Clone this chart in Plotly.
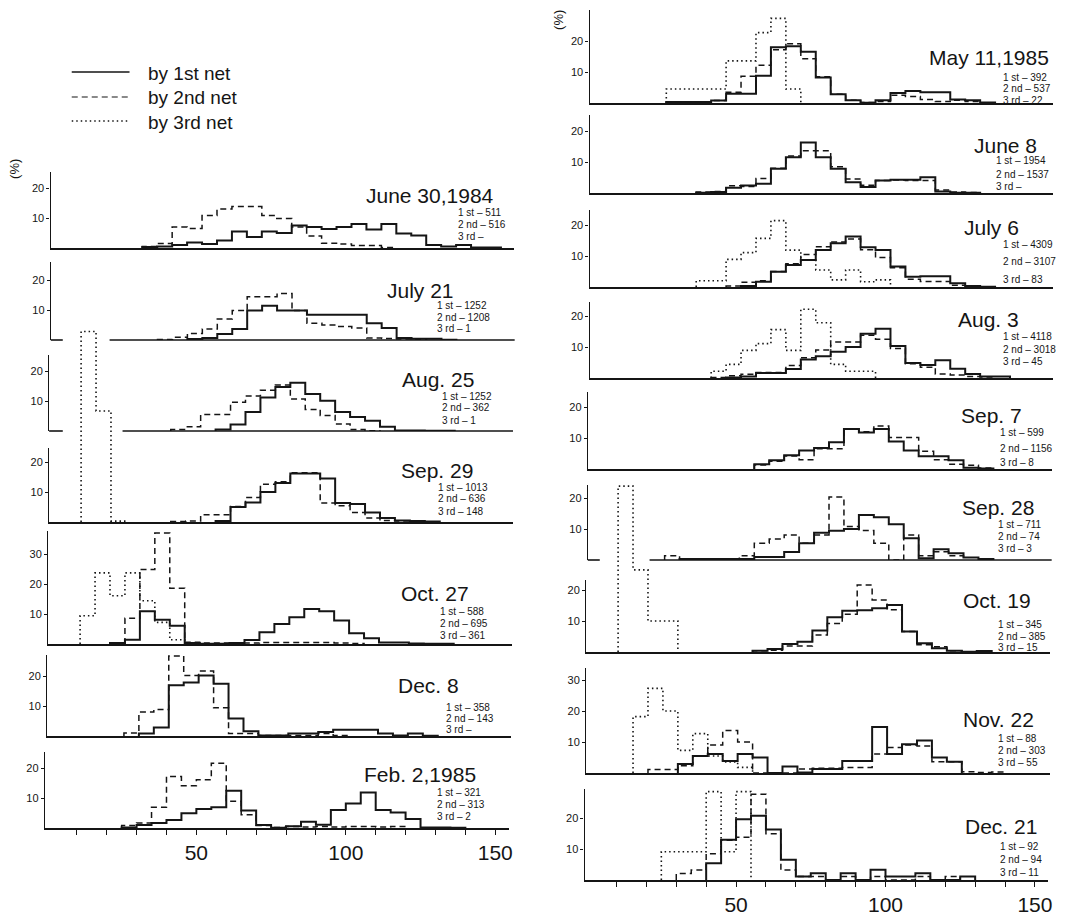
import plotly.graph_objects as go

# ------------------------------------------------------------------
# data : percentage frequency per 5-unit length class
# (each series: first class start + list of percentages)
# ------------------------------------------------------------------
BIN_WIDTH = 5
X_TICKS = list(range(10, 151, 10))
X_TICK_LABELS = ["50" if v == 50 else "100" if v == 100 else "150" if v == 150 else "" for v in X_TICKS]
Y_TICKS_STD = [10, 20]
Y_TICKS_TALL = [10, 20, 30]
LEGEND_LABELS = ["by 1st net", "by 2nd net", "by 3rd net"]

# ---- left column ----
jun30_84_n1_start = 30
jun30_84_n1 = [0.3, 0.5, 1.0, 1.8, 1.3, 2.5, 5.5, 3.7, 5.5, 5.0, 7.5, 7.0, 6.3, 7.0, 8.0, 6.2, 8.0, 4.8, 4.2, 1.0, 0.5, 1.0, 0.2, 0.2]
jun30_84_n2_start = 30
jun30_84_n2 = [0.5, 1.5, 7.0, 6.5, 10.8, 13.0, 13.8, 13.8, 10.8, 9.8, 7.0, 4.0, 1.6, 1.3, 0.8, 0.8, 0.2]

jul21_84_n1_start = 45
jul21_84_n1 = [0.3, 0.7, 2.0, 3.7, 9.8, 11.4, 9.8, 9.8, 8.4, 8.4, 8.4, 8.4, 5.6, 4.0, 0.7, 0.4, 0.4, 0.1]
jul21_84_n2_start = 35
jul21_84_n2 = [0.2, 0.9, 2.2, 3.7, 7.0, 9.8, 14.4, 14.4, 15.5, 9.8, 5.6, 5.0, 4.5, 4.0, 0.7, 0.5, 0.3, 0.2]

aug25_84_n1_start = 55
aug25_84_n1 = [0.5, 2.2, 6.3, 11.2, 14.7, 16.1, 12.3, 10.1, 6.3, 4.7, 3.4, 1.4, 0.2, 0.2, 0.1, 0.1]
aug25_84_n2_start = 40
aug25_84_n2 = [0.5, 1.4, 5.5, 5.5, 9.6, 11.7, 13.6, 15.3, 10.7, 7.2, 5.2, 2.3, 0.5, 0.1]

sep29_84_n1_start = 55
sep29_84_n1 = [0.3, 5.0, 6.5, 10.0, 13.0, 16.2, 16.2, 14.5, 6.3, 6.0, 3.2, 1.3, 0.5, 0.3, 0.2]
sep29_84_n2_start = 40
sep29_84_n2 = [0.2, 0.3, 2.4, 2.4, 5.2, 8.2, 12.6, 13.4, 16.4, 16.4, 6.3, 5.4, 3.2, 1.3, 0.5, 0.3]
sep29_84_n3_start = 10
sep29_84_n3 = [63.5, 37.0, 0.3]

oct27_84_n1_start = 20
oct27_84_n1 = [0.3, 1.4, 10.9, 8.1, 6.1, 0.3, 0.1, 0.1, 0.3, 1.3, 3.9, 6.7, 8.9, 11.7, 10.9, 7.8, 3.6, 1.9, 0.5, 0.5, 0.2, 0.1, 0.1]
oct27_84_n2_start = 25
oct27_84_n2 = [8.6, 24.8, 37.0, 18.6, 0.6, 0.3, 0.3, 0.3, 0.3, 0.5, 0.5, 0.5, 0.5, 0.5, 0.3, 0.2]
oct27_84_n3_start = 10
oct27_84_n3 = [9.4, 23.7, 16.1, 23.7, 14.4, 7.2, 1.4, 0.3]

dec8_84_n1_start = 30
dec8_84_n1 = [0.8, 2.8, 16.9, 17.8, 20.2, 17.4, 5.8, 1.6, 0.2, 0.2, 0.8, 0.8, 1.3, 2.1, 2.1, 2.1, 0.8, 0.2, 0.8, 0.1]
dec8_84_n2_start = 25
dec8_84_n2 = [1.0, 8.0, 8.8, 26.7, 20.2, 21.7, 9.4, 0.8, 0.8, 0.2, 0.2, 0.2, 0.2, 0.8, 0.2]

feb2_85_n1_start = 25
feb2_85_n1 = [0.2, 1.0, 1.7, 2.7, 4.9, 6.3, 6.9, 12.4, 5.8, 1.0, 0.1, 0.6, 2.1, 1.1, 6.0, 8.2, 11.8, 6.0, 5.2, 3.0, 0.2, 0.2, 0.1]
feb2_85_n2_start = 25
feb2_85_n2 = [0.8, 1.7, 6.9, 17.2, 14.1, 16.1, 21.6, 8.9, 4.4, 0.8, 0.2, 0.5, 0.3, 0.5, 0.3, 0.5, 0.5, 0.3, 0.5]

# ---- right column ----
may11_85_n1_start = 25
may11_85_n1 = [0.3, 0.3, 0.3, 0.8, 3.0, 3.0, 8.8, 18.0, 18.3, 16.5, 8.2, 2.8, 0.9, 0.1, 0.9, 3.2, 3.9, 3.5, 3.5, 1.1, 0.9, 0.2]
may11_85_n2_start = 25
may11_85_n2 = [0.3, 0.3, 0.3, 0.8, 3.5, 8.6, 12.2, 17.2, 19.1, 14.3, 8.5, 2.8, 0.9, 0.2, 0.5, 2.5, 2.1, 1.1, 0.5, 0.9, 0.5]
may11_85_n3_start = 25
may11_85_n3 = [4.5, 4.5, 4.5, 4.5, 13.6, 13.6, 22.7, 27.3, 4.5]

jun8_85_n1_start = 35
jun8_85_n1 = [0.1, 0.3, 1.7, 2.4, 3.0, 7.8, 11.5, 16.3, 11.5, 7.8, 3.5, 1.9, 4.0, 4.3, 4.3, 5.1, 0.5, 0.1, 0.1]
jun8_85_n2_start = 35
jun8_85_n2 = [0.3, 0.5, 2.3, 2.1, 4.7, 8.0, 11.9, 13.6, 13.6, 8.5, 4.5, 2.5, 4.0, 4.2, 4.0, 4.0, 1.0, 0.3, 0.2]

jul6_85_n1_start = 50
jul6_85_n1 = [0.3, 1.7, 4.9, 7.1, 8.7, 11.9, 14.1, 16.3, 12.8, 11.9, 6.6, 3.3, 3.5, 3.5, 1.2, 0.3, 0.1]
jul6_85_n2_start = 45
jul6_85_n2 = [0.3, 1.5, 2.0, 5.0, 7.5, 10.5, 13.0, 14.5, 15.5, 12.0, 9.5, 6.2, 2.5, 1.8, 1.8, 0.6, 0.4]
jul6_85_n3_start = 35
jul6_85_n3 = [2.0, 2.0, 8.9, 11.1, 15.7, 21.4, 11.9, 8.7, 5.5, 2.3, 5.5, 1.7, 2.3]

aug3_85_n1_start = 45
aug3_85_n1 = [0.2, 0.5, 1.6, 1.6, 2.9, 6.0, 7.0, 8.5, 10.0, 14.3, 15.9, 10.3, 4.8, 4.2, 5.7, 3.0, 1.3, 0.5, 0.5]
aug3_85_n2_start = 40
aug3_85_n2 = [0.2, 0.7, 1.2, 1.8, 1.8, 4.0, 6.5, 9.0, 11.6, 11.6, 13.8, 12.5, 9.5, 4.6, 3.5, 1.3, 1.0, 0.5, 0.3]
aug3_85_n3_start = 40
aug3_85_n3 = [2.2, 4.4, 8.9, 11.1, 15.6, 8.9, 22.2, 17.8, 4.4, 2.2, 2.2]

sep7_85_n1_start = 55
sep7_85_n1 = [1.5, 2.8, 4.4, 6.0, 6.8, 8.6, 12.9, 11.8, 12.9, 8.9, 6.0, 4.1, 4.1, 2.8, 0.4, 0.2]
sep7_85_n2_start = 55
sep7_85_n2 = [1.3, 2.5, 4.2, 3.0, 6.5, 6.5, 13.0, 12.0, 13.9, 10.2, 10.2, 5.7, 3.0, 1.5, 1.2, 0.3]

sep28_85_n1_start = 30
sep28_85_n1 = [0.3, 0.3, 0.3, 0.3, 0.3, 1.0, 1.0, 2.6, 5.4, 8.8, 9.4, 10.0, 14.5, 13.8, 11.5, 7.0, 0.6, 3.5, 2.2, 0.8, 0.3]
sep28_85_n2_start = 25
sep28_85_n2 = [1.4, 0.0, 0.0, 0.0, 0.0, 1.4, 5.4, 6.8, 8.1, 5.4, 8.1, 20.3, 10.8, 9.5, 5.4, 0.0, 8.1, 1.4, 2.7, 1.4]

oct19_85_n1_start = 55
oct19_85_n1 = [0.4, 1.0, 2.6, 3.3, 6.9, 11.2, 13.3, 13.5, 14.1, 15.2, 6.6, 2.8, 1.2, 0.4, 0.1, 0.3]
oct19_85_n2_start = 55
oct19_85_n2 = [0.4, 0.6, 1.9, 1.9, 5.5, 9.2, 12.2, 21.6, 16.8, 13.6, 6.6, 2.3, 1.7, 0.4, 0.1]
oct19_85_n3_start = 10
oct19_85_n3 = [53.5, 26.5, 10.0, 10.0]

nov22_85_n1_start = 30
nov22_85_n1 = [2.9, 5.5, 6.1, 3.9, 6.1, 5.0, 0.0, 2.1, 0.2, 1.3, 1.3, 3.9, 3.9, 14.8, 6.1, 9.3, 10.5, 5.0, 3.6]
nov22_85_n2_start = 20
nov22_85_n2 = [1.1, 1.1, 2.3, 5.5, 9.0, 13.7, 10.0, 0.0, 0.0, 0.0, 1.3, 1.5, 1.5, 1.8, 1.8, 6.1, 8.2, 9.0, 8.7, 3.6, 3.6, 0.4, 0.2, 0.3]
nov22_85_n3_start = 15
nov22_85_n3 = [18.2, 27.3, 20.0, 7.3, 12.7, 5.5, 3.6, 1.8]

dec21_85_n1_start = 40
dec21_85_n1 = [5.4, 13.0, 19.6, 20.7, 16.3, 6.5, 1.1, 2.2, 0.0, 2.2, 0.0, 3.3, 1.1, 1.1, 2.2, 0.0, 0.0, 1.1]
dec21_85_n2_start = 30
dec21_85_n2 = [2.1, 3.2, 8.5, 12.8, 13.8, 27.7, 14.9, 3.2, 1.1, 1.1, 0.0, 1.1, 0.0, 1.1, 0.0, 0.0, 1.1, 0.0, 1.1]
dec21_85_n3_start = 25
dec21_85_n3 = [9.1, 9.1, 9.1, 28.5, 9.1, 28.5]

# ------------------------------------------------------------------
# page geometry (pixels of the 1076 x 916 page)
# ------------------------------------------------------------------
W, H = 1076, 916
XRANGE = [-0.7, 154.5]
PX_PER_UNIT = 3.0
XSPAN = (XRANGE[1] - XRANGE[0]) * PX_PER_UNIT
INK = "#151515"
FONT = "Liberation Sans, Arial, Helvetica, sans-serif"

STYLE = {
    "n1": dict(color=INK, width=2.0, dash="solid"),
    "n2": dict(color=INK, width=1.5, dash="6px,4px"),
    "n3": dict(color=INK, width=1.6, dash="1.5px,3px"),
}

PANELS = [
    # left column
    dict(title="June 30,1984", counts=["1 st – 511", "2 nd – 516", "3 rd –"], scale=3.0,
         axis=50.7, base=248, top=172, yt=Y_TICKS_STD, tpos=(498, 196), cpos=(458, [212, 224, 236]),
         series=[("n1", jun30_84_n1_start, jun30_84_n1), ("n2", jun30_84_n2_start, jun30_84_n2)]),
    dict(title="July 21", counts=["1 st – 1252", "2 nd – 1208", "3 rd – 1"], scale=3.0,
         axis=51.0, base=340, top=262, yt=Y_TICKS_STD, tpos=(458, 290), cpos=(437, [305, 317, 329]),
         gap=(63, 110),
         series=[("n1", jul21_84_n1_start, jul21_84_n1), ("n2", jul21_84_n2_start, jul21_84_n2)]),
    dict(title="Aug. 25", counts=["1 st – 1252", "2 nd – 362", "3 rd – 1"], scale=3.0,
         axis=49.3, base=431, top=355, yt=Y_TICKS_STD, tpos=(478, 379), cpos=(442, [396, 408, 420]),
         gap=(63, 123),
         series=[("n1", aug25_84_n1_start, aug25_84_n1), ("n2", aug25_84_n2_start, aug25_84_n2)]),
    dict(title="Sep. 29", counts=["1 st – 1013", "2 nd – 636", "3 rd – 148"], scale=3.0,
         axis=49.3, base=522, top=448, yt=Y_TICKS_STD, tpos=(477, 470), cpos=(438, [487, 499, 511]),
         series=[("n1", sep29_84_n1_start, sep29_84_n1), ("n2", sep29_84_n2_start, sep29_84_n2),
                 ("n3", sep29_84_n3_start, sep29_84_n3)]),
    dict(title="Oct. 27", counts=["1 st – 588", "2 nd – 695", "3 rd – 361"], scale=3.0,
         axis=48.3, base=644, top=531, yt=Y_TICKS_TALL, tpos=(473, 593), cpos=(440, [611, 623, 635]),
         series=[("n1", oct27_84_n1_start, oct27_84_n1), ("n2", oct27_84_n2_start, oct27_84_n2),
                 ("n3", oct27_84_n3_start, oct27_84_n3)]),
    dict(title="Dec. 8", counts=["1 st – 358", "2 nd – 143", "3 rd –"], scale=3.0,
         axis=47.3, base=736, top=655, yt=Y_TICKS_STD, tpos=(463, 685), cpos=(446, [707, 718, 729]),
         series=[("n1", dec8_84_n1_start, dec8_84_n1), ("n2", dec8_84_n2_start, dec8_84_n2)]),
    dict(title="Feb. 2,1985", counts=["1 st – 321", "2 nd – 313", "3 rd – 2"], scale=3.0,
         axis=45.0, base=828, top=752, yt=Y_TICKS_STD, tpos=(480, 774), cpos=(437, [792, 804, 816]),
         bottom=True,
         series=[("n1", feb2_85_n1_start, feb2_85_n1), ("n2", feb2_85_n2_start, feb2_85_n2)]),
    # right column
    dict(title="May 11,1985", counts=["1 st – 392", "2 nd – 537", "3 rd – 22"], scale=3.1,
         axis=591.7, base=103, top=10, yt=Y_TICKS_STD, tpos=(1055, 58), cpos=(1005, [77, 89, 100]),
         series=[("n1", may11_85_n1_start, may11_85_n1), ("n2", may11_85_n2_start, may11_85_n2),
                 ("n3", may11_85_n3_start, may11_85_n3)]),
    dict(title="June 8", counts=["1 st – 1954", "2 nd – 1537", "3 rd –"], scale=3.1,
         axis=591.7, base=193, top=115, yt=Y_TICKS_STD, tpos=(1043, 145), cpos=(998, [161, 174, 187]),
         series=[("n1", jun8_85_n1_start, jun8_85_n1), ("n2", jun8_85_n2_start, jun8_85_n2)]),
    dict(title="July 6", counts=["1 st – 4309", "2 nd – 3107", "3 rd – 83"], scale=3.1,
         axis=591.7, base=287, top=210, yt=Y_TICKS_STD, tpos=(1025, 227), cpos=(1005, [244, 261, 279]),
         series=[("n1", jul6_85_n1_start, jul6_85_n1), ("n2", jul6_85_n2_start, jul6_85_n2),
                 ("n3", jul6_85_n3_start, jul6_85_n3)]),
    dict(title="Aug. 3", counts=["1 st – 4118", "2 nd – 3018", "3 rd – 45"], scale=3.1,
         axis=591.7, base=378, top=302, yt=Y_TICKS_STD, tpos=(1025, 320), cpos=(1005, [337, 349, 361]),
         series=[("n1", aug3_85_n1_start, aug3_85_n1), ("n2", aug3_85_n2_start, aug3_85_n2),
                 ("n3", aug3_85_n3_start, aug3_85_n3)]),
    dict(title="Sep. 7", counts=["1 st – 599", "2 nd – 1156", "3 rd – 8"], scale=3.1,
         axis=590.0, base=469, top=392, yt=Y_TICKS_STD, tpos=(1028, 415), cpos=(1002, [433, 448, 462]),
         series=[("n1", sep7_85_n1_start, sep7_85_n1), ("n2", sep7_85_n2_start, sep7_85_n2)]),
    dict(title="Sep. 28", counts=["1 st – 711", "2 nd – 74", "3 rd – 3"], scale=3.1,
         axis=590.0, base=560, top=485, yt=Y_TICKS_STD, tpos=(1040, 507), cpos=(1000, [524, 536, 548]),
         gap=(602, 652),
         series=[("n1", sep28_85_n1_start, sep28_85_n1), ("n2", sep28_85_n2_start, sep28_85_n2)]),
    dict(title="Oct. 19", counts=["1 st – 345", "2 nd – 385", "3 rd – 15"], scale=3.1,
         axis=588.3, base=652, top=580, yt=Y_TICKS_STD, tpos=(1037, 600), cpos=(1000, [624, 636, 647]),
         series=[("n1", oct19_85_n1_start, oct19_85_n1), ("n2", oct19_85_n2_start, oct19_85_n2),
                 ("n3", oct19_85_n3_start, oct19_85_n3)]),
    dict(title="Nov. 22", counts=["1 st – 88", "2 nd – 303", "3 rd – 55"], scale=3.1,
         axis=588.3, base=773, top=668, yt=Y_TICKS_TALL, tpos=(1040, 719), cpos=(1000, [738, 750, 762]),
         series=[("n1", nov22_85_n1_start, nov22_85_n1), ("n2", nov22_85_n2_start, nov22_85_n2),
                 ("n3", nov22_85_n3_start, nov22_85_n3)]),
    dict(title="Dec. 21", counts=["1 st – 92", "2 nd – 94", "3 rd – 11"], scale=3.1,
         axis=586.7, base=880, top=789, yt=Y_TICKS_STD, tpos=(1043, 826), cpos=(1002, [846, 859, 872]),
         bottom=True,
         series=[("n1", dec21_85_n1_start, dec21_85_n1), ("n2", dec21_85_n2_start, dec21_85_n2),
                 ("n3", dec21_85_n3_start, dec21_85_n3)]),
]


def px_x(px):
    return px / W


def px_y(py):
    return 1 - py / H


def step_xy(start, vals):
    xs = [start] + [start + BIN_WIDTH * i for i in range(len(vals))] + [start + BIN_WIDTH * len(vals)]
    ys = [0] + list(vals) + [0]
    return xs, ys


fig = go.Figure()
layout_axes = {}
annotations = []
shapes = []
n_ax = 0


def new_axes(axis_px, base, top, yrange, visible, yt=None, bottom=False, xline=True):
    global n_ax
    n_ax += 1
    s = "" if n_ax == 1 else str(n_ax)
    xa = dict(domain=[px_x(axis_px), px_x(axis_px + XSPAN)], range=XRANGE, anchor="y" + s,
              showgrid=False, zeroline=False, fixedrange=True, visible=visible)
    ya = dict(domain=[px_y(base), px_y(top)], range=yrange, anchor="x" + s,
              showgrid=False, zeroline=False, fixedrange=True, visible=visible)
    if visible:
        xa.update(showline=xline, linecolor=INK, linewidth=1.6, ticks="", showticklabels=False)
        ya.update(showline=True, linecolor=INK, linewidth=1.1, ticks="outside", ticklen=3,
                  tickwidth=1, tickcolor=INK, tickvals=yt, ticktext=[str(v) for v in yt],
                  tickfont=dict(family=FONT, size=11, color=INK))
        if bottom:
            xa.update(ticks="outside", ticklen=5, tickwidth=1.2, tickcolor=INK,
                      tickvals=X_TICKS, ticktext=X_TICK_LABELS, showticklabels=True,
                      tickfont=dict(family=FONT, size=21, color=INK))
    layout_axes["xaxis" + s] = xa
    layout_axes["yaxis" + s] = ya
    return "x" + s, "y" + s


for p in PANELS:
    ymax = (p["base"] - p["top"]) / p["scale"]
    gap = p.get("gap")
    xa, ya = new_axes(p["axis"], p["base"], p["top"], [0, ymax], True, p["yt"],
                      p.get("bottom", False), xline=gap is None)
    if gap is not None:
        # baseline interrupted where the tall 3rd-net class of the panel below passes through
        for a, b in [(p["axis"], gap[0]), (gap[1], p["axis"] + XSPAN)]:
            shapes.append(dict(type="line", xref="paper", yref="paper", x0=px_x(a), x1=px_x(b),
                               y0=px_y(p["base"]), y1=px_y(p["base"]),
                               line=dict(color=INK, width=1.6)))
    for key, start, vals in p["series"]:
        xs, ys = step_xy(start, vals)
        tx, ty = xa, ya
        if max(vals) > ymax - 0.5:
            # tall class that runs up through the panels above: own (hidden) axes, same scale
            tall_top = p["base"] - (max(vals) + 1.5) * p["scale"]
            tx, ty = new_axes(p["axis"], p["base"], tall_top,
                              [0, (p["base"] - tall_top) / p["scale"]], False)
        st = STYLE[key]
        fig.add_trace(go.Scatter(x=xs, y=ys, mode="lines", xaxis=tx, yaxis=ty,
                                 line=dict(color=st["color"], width=st["width"], dash=st["dash"], shape="hv"),
                                 showlegend=False, hoverinfo="skip"))
    annotations.append(dict(x=px_x(p["tpos"][0]), y=px_y(p["tpos"][1]), xref="paper", yref="paper",
                            text=p["title"], showarrow=False, xanchor="right", yanchor="middle",
                            font=dict(family=FONT, size=21, color=INK)))
    for txt, cy in zip(p["counts"], p["cpos"][1]):
        annotations.append(dict(x=px_x(p["cpos"][0]), y=px_y(cy), xref="paper", yref="paper",
                                text=txt, showarrow=False, xanchor="left", yanchor="middle",
                                font=dict(family=FONT, size=10, color=INK)))

# (%) unit labels
for ux, uy in [(15, 169), (560, 20)]:
    annotations.append(dict(x=px_x(ux), y=px_y(uy), xref="paper", yref="paper", text="(%)",
                            textangle=-90, showarrow=False, xanchor="center", yanchor="middle",
                            font=dict(family=FONT, size=13, color=INK)))

# legend (line samples + labels)
for (key, label), ly in zip(zip(["n1", "n2", "n3"], LEGEND_LABELS), [72, 97, 121]):
    st = STYLE[key]
    shapes.append(dict(type="line", xref="paper", yref="paper",
                       x0=px_x(72), x1=px_x(130), y0=px_y(ly), y1=px_y(ly),
                       line=dict(color=st["color"], width=st["width"] - 0.3, dash=st["dash"])))
    annotations.append(dict(x=px_x(147), y=px_y(ly + 1), xref="paper", yref="paper", text=label,
                            showarrow=False, xanchor="left", yanchor="middle",
                            font=dict(family=FONT, size=19, color=INK)))

fig.update_layout(
    width=W, height=H,
    margin=dict(l=0, r=0, t=0, b=0),
    paper_bgcolor="white",
    plot_bgcolor="rgba(0,0,0,0)",
    showlegend=False,
    annotations=annotations,
    shapes=shapes,
    **layout_axes,
)

fig.write_html("out.html", config={"displayModeBar": False},
               post_script="document.body.style.margin='0';document.body.style.overflow='hidden';")
